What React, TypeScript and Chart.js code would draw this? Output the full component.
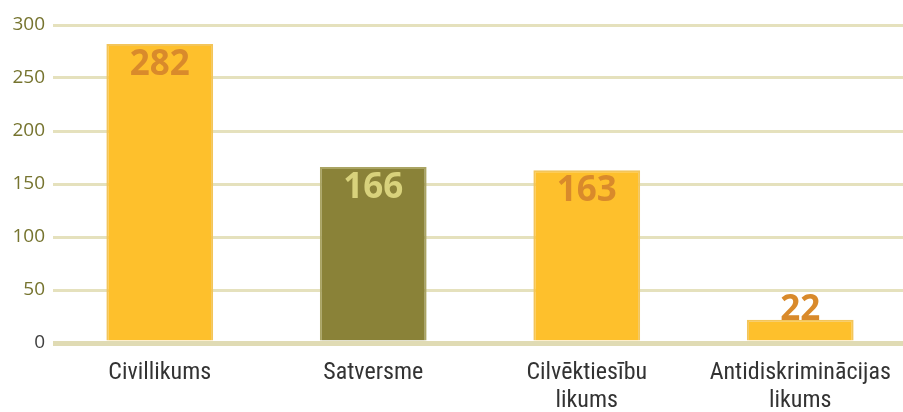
import React, { useEffect, useRef } from "react";
import { Chart, registerables } from "chart.js";

Chart.register(...registerables);

const categories: (string | string[])[] = [
  "Civillikums",
  "Satversme",
  ["Cilvēktiesību", "likums"],
  ["Antidiskriminācijas", "likums"],
];
const values = [282, 166, 163, 22];
const barColors = ["#fec02c", "#8a8238", "#fec02c", "#fec02c"];
const borderColors = ["#f3c55a", "#aaa463", "#f3c55a", "#f3c55a"];
const labelColors = ["#d98a2b", "#d8d27c", "#d98a2b", "#d98a2b"];
const yTicks = [0, 50, 100, 150, 200, 250, 300];

const valueLabels = {
  id: "valueLabels",
  afterDatasetsDraw(chart: any) {
    const ctx = chart.ctx;
    const meta = chart.getDatasetMeta(0);
    ctx.save();
    ctx.font = "bold 35px 'Open Sans', sans-serif";
    ctx.textAlign = "center";
    meta.data.forEach((bar: any, i: number) => {
      const h = bar.base - bar.y;
      ctx.fillStyle = labelColors[i];
      if (h > 45) {
        ctx.textBaseline = "top";
        ctx.fillText(String(values[i]), bar.x, bar.y + 3);
      } else {
        ctx.textBaseline = "alphabetic";
        ctx.fillText(String(values[i]), bar.x, bar.y);
      }
    });
    ctx.restore();
  },
};

export default function App() {
  const ref = useRef<HTMLCanvasElement>(null);
  useEffect(() => {
    if (!ref.current) return;
    const chart = new Chart(ref.current, {
      type: "bar",
      data: {
        labels: categories,
        datasets: [
          {
            data: values,
            backgroundColor: barColors,
            borderColor: borderColors,
            borderWidth: 2,
            barPercentage: 0.5,
            categoryPercentage: 1,
          },
        ],
      },
      options: {
        animation: false,
        responsive: false,
        maintainAspectRatio: false,
        layout: { padding: { top: 25, right: 5, left: 0, bottom: 0 } },
        plugins: { legend: { display: false }, tooltip: { enabled: false } },
        scales: {
          x: {
            grid: { display: false },
            border: { display: false },
            ticks: {
              color: "#333333",
              font: { family: "'Liberation Sans Narrow', 'Roboto Condensed', 'Liberation Sans', sans-serif", size: 24, lineHeight: 1.17 },
              padding: 8,
              maxRotation: 0,
              autoSkip: false,
            },
            afterFit(scale: any) {
              scale.height = 69;
            },
          },
          y: {
            min: 0,
            max: 300,
            afterBuildTicks(scale: any) {
              scale.ticks = yTicks.map((v) => ({ value: v }));
            },
            grid: {
              color: (c: any) => (c.tick && c.tick.value === 0 ? "#e0dbb4" : "#e5e1bd"),
              lineWidth: (c: any) => (c.tick && c.tick.value === 0 ? 5 : 3),
              drawTicks: false,
            },
            border: { display: false },
            ticks: {
              color: (c: any) => (c.tick && c.tick.value === 0 ? "#404040" : "#76742f"),
              font: { family: "'Open Sans', sans-serif", size: 19 },
              padding: 8,
            },
            afterFit(scale: any) {
              scale.width = 53;
            },
          },
        },
      },
      plugins: [valueLabels],
    });
    return () => chart.destroy();
  }, []);
  return (
    <div style={{ position: "fixed", left: 0, top: 0, width: 903, height: 412, overflow: "hidden", background: "#fff" }}>
      <canvas ref={ref} width={912} height={412} style={{ width: 912, height: 412, display: "block" }} />
    </div>
  );
}
